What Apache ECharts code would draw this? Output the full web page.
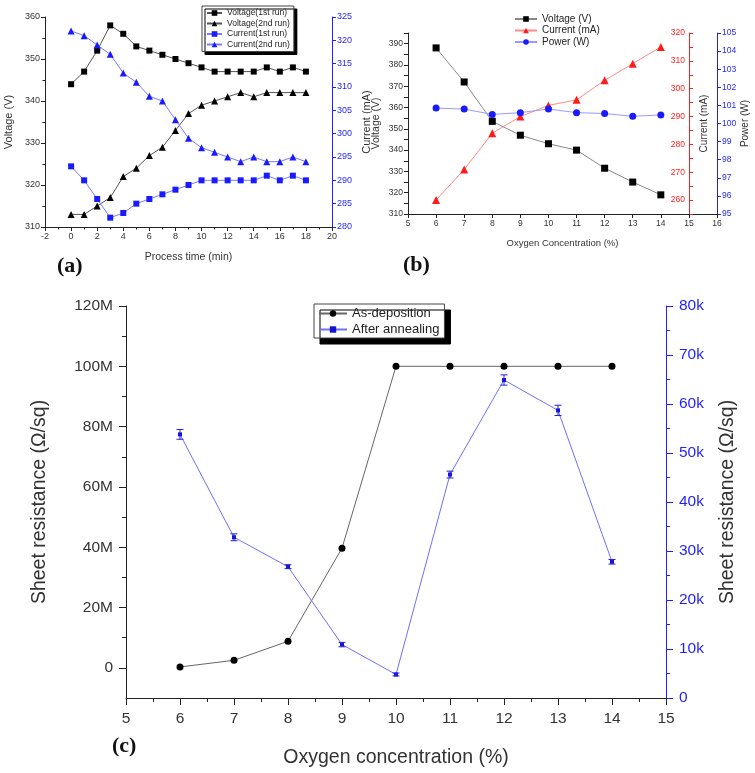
<!DOCTYPE html>
<html><head><meta charset="utf-8">
<script src="https://cdn.jsdelivr.net/npm/echarts@6/dist/echarts.min.js"></script>
<style>html,body{margin:0;padding:0;background:#fff}#c{width:755px;height:773px}</style>
</head><body><div id="c"></div>
<script>
// ---------- (a) process time ----------
const timeMin = [0,1,2,3,4,5,6,7,8,9,10,11,12,13,14,15,16,17,18];
const voltage1st = [344,347,352,358,356,353,352,351,350,349,348,347,347,347,347,348,347,348,347];
const voltage2nd = [313,313,315,317,322,324,327,329,333,337,339,340,341,342,341,342,342,342,342];
const current1st = [293,290,286,282,283,285,286,287,288,289,290,290,290,290,290,291,290,291,290];
const current2nd = [322,321,319,317,313,311,308,307,303,299,297,296,295,294,295,294,294,295,294];
// ---------- (b) oxygen concentration ----------
const oxygenB = [6,7,8,9,10,11,12,13,14];
const voltageB = [388,372,353.5,347,343,340,331.5,325,319];
const currentB = [260,271,284,290,294,296,303,309,315];
const powerB = [100.85,100.8,100.5,100.6,100.8,100.6,100.55,100.4,100.47];
// ---------- (c) sheet resistance ----------
const oxygenC = [6,7,8,9,10,11,12,13,14];
const asDeposition = [0.3e6,2.5e6,8.8e6,39.7e6,100e6,100e6,100e6,100e6,100e6];
const afterAnnealing = [53.8e3,32.8e3,26.8e3,10.9e3,4.8e3,45.6e3,64.9e3,58.7e3,27.8e3];
const annealErr = [1.0e3,0.7e3,0.4e3,0.45e3,0.3e3,0.7e3,1.05e3,1.05e3,0.47e3];

const FONT = 'Liberation Sans, Arial, sans-serif';
const BLUE = '#1f1fff';
const zip = (xs, ys) => xs.map((x, i) => [x, ys[i]]);

function axisBase(fs, color) {
  return {
    type: 'value',
    axisLine: { show: true, onZero: false, lineStyle: { color: color || '#222', width: 1 } },
    axisTick: { show: true, length: 4, lineStyle: { color: color || '#222' } },
    axisLabel: { fontFamily: FONT, fontSize: fs, color: color || '#333', margin: 5 },
    splitLine: { show: false },
    nameLocation: 'middle',
    nameTextStyle: { fontFamily: FONT, color: '#333' }
  };
}
function merge(a, b) {
  const o = Object.assign({}, a);
  for (const k in b) {
    if (b[k] && typeof b[k] === 'object' && !Array.isArray(b[k]) && a[k] && typeof a[k] === 'object') o[k] = merge(a[k], b[k]);
    else o[k] = b[k];
  }
  return o;
}

const xAxes = [
  merge(axisBase(9), { gridIndex: 0, position: 'bottom', min: -2, max: 20, interval: 2, name: 'Process time (min)', nameGap: 25,
    nameTextStyle: { fontSize: 10.5 }, minorTick: { show: true, splitNumber: 2, length: 2.5, lineStyle: { color: '#222' } } }),
  merge(axisBase(8.5), { gridIndex: 1, position: 'bottom', min: 5, max: 16, interval: 1, name: 'Oxygen Concentration (%)', nameGap: 24,
    nameTextStyle: { fontSize: 9.5 } }),
  merge(axisBase(15.5), { gridIndex: 2, position: 'bottom', min: 5, max: 15, interval: 1, name: 'Oxygen concentration (%)', nameGap: 50,
    axisTick: { length: 7 }, axisLabel: { margin: 13 },
    nameTextStyle: { fontSize: 19.5 }, minorTick: { show: true, splitNumber: 2, length: 4, lineStyle: { color: '#222' } } })
];

const mFmt = v => (Math.abs(v % 20e6) < 1 ? (v === 0 ? '0' : Math.round(v / 1e6) + 'M') : '');
const yAxes = [
  merge(axisBase(9), { gridIndex: 0, position: 'left', min: 310, max: 360, interval: 10, name: 'Voltage (V)', nameGap: 31,
    nameTextStyle: { fontSize: 11 }, minorTick: { show: true, splitNumber: 2, length: 2.5, lineStyle: { color: '#222' } } }),
  merge(axisBase(9, BLUE), { gridIndex: 0, position: 'right', min: 280, max: 325, interval: 5, name: 'Current (mA)', nameGap: 29,
    nameTextStyle: { fontSize: 11, color: '#333' } }),
  merge(axisBase(8.5), { gridIndex: 1, position: 'left', min: 310, max: 395, interval: 5, name: 'Voltage (V)', nameGap: 26,
    axisLabel: { formatter: v => (v % 10 === 0 ? String(v) : '') }, nameTextStyle: { fontSize: 10.5 } }),
  merge(axisBase(8.5, '#ff2020'), { gridIndex: 1, position: 'right', offset: -28, min: 255, max: 320, interval: 5,
    name: 'Current (mA)', nameGap: 10, axisLabel: { inside: true, margin: 4, formatter: v => (v % 10 === 0 ? String(v) : '') },
    nameTextStyle: { fontSize: 10, color: '#333' } }),
  merge(axisBase(8.5, BLUE), { gridIndex: 1, position: 'right', min: 95, max: 105, interval: 1, name: 'Power (W)', nameGap: 20,
    nameTextStyle: { fontSize: 10, color: '#333' } }),
  merge(axisBase(15.5), { gridIndex: 2, position: 'left', min: -10e6, max: 120e6, interval: 10e6, name: 'Sheet resistance (\u03a9/sq)', nameGap: 76,
    axisTick: { length: 7, customValues: [0, 20e6, 40e6, 60e6, 80e6, 100e6, 120e6] }, axisLabel: { margin: 13, formatter: mFmt },
    nameTextStyle: { fontSize: 19.5 } }),
  merge(axisBase(15.5, BLUE), { gridIndex: 2, position: 'right', min: 0, max: 80e3, interval: 10e3, name: 'Sheet resistance (\u03a9/sq)', nameGap: 52,
    axisTick: { length: 7 }, axisLabel: { margin: 13, formatter: v => (v === 0 ? '0' : Math.round(v / 1000) + 'k') },
    nameTextStyle: { fontSize: 19.5, color: '#333' }, minorTick: { show: true, splitNumber: 2, length: 4, lineStyle: { color: BLUE } } }),
  // minor ticks for (c) left axis
  merge(axisBase(15.5), { gridIndex: 2, position: 'left', min: -10e6, max: 120e6, interval: 10e6,
    axisLine: { show: false }, axisLabel: { show: false },
    axisTick: { length: 4, customValues: [10e6, 30e6, 50e6, 70e6, 90e6, 110e6] } })
];

function lineSeries(name, xi, yi, data, symbol, size, color, lineColor) {
  return { name, type: 'line', xAxisIndex: xi, yAxisIndex: yi, data, symbol, symbolSize: size,
    itemStyle: { color }, lineStyle: { color: lineColor, width: 1 }, emphasis: { disabled: true }, animation: false };
}

const errData = oxygenC.map((x, i) => [x, afterAnnealing[i] - annealErr[i], afterAnnealing[i] + annealErr[i]]);

const series = [
  lineSeries('Voltage(1st run)', 0, 0, zip(timeMin, voltage1st), 'rect', 6, '#000', '#555'),
  lineSeries('Voltage(2nd run)', 0, 0, zip(timeMin, voltage2nd), 'triangle', 7, '#000', '#555'),
  lineSeries('Current(1st run)', 0, 1, zip(timeMin, current1st), 'rect', 6, '#1a1aff', '#7b7bff'),
  lineSeries('Current(2nd run)', 0, 1, zip(timeMin, current2nd), 'triangle', 7, '#1a1aff', '#7b7bff'),
  lineSeries('Voltage (V)', 1, 2, zip(oxygenB, voltageB), 'rect', 7, '#000', '#888'),
  lineSeries('Current (mA)', 1, 3, zip(oxygenB, currentB), 'triangle', 8, '#ff1a1a', '#ff8a8a'),
  lineSeries('Power (W)', 1, 4, zip(oxygenB, powerB), 'circle', 7, '#1a1aff', '#9a9aff'),
  lineSeries('As-deposition', 2, 5, zip(oxygenC, asDeposition), 'circle', 7, '#000', '#666'),
  lineSeries('After annealing', 2, 6, zip(oxygenC, afterAnnealing), 'rect', 4, '#1212d0', '#6f6fff'),
  {
    name: 'err', type: 'custom', xAxisIndex: 2, yAxisIndex: 6, data: errData, encode: { x: 0, y: [1, 2] },
    z: 5, animation: false, silent: true,
    renderItem: function (params, api) {
      const x = api.value(0), lo = api.value(1), hi = api.value(2);
      const p1 = api.coord([x, lo]), p2 = api.coord([x, hi]);
      const w = 3.5, st = { stroke: '#2020e0', lineWidth: 1 };
      return { type: 'group', children: [
        { type: 'line', shape: { x1: p1[0], y1: p1[1], x2: p2[0], y2: p2[1] }, style: st },
        { type: 'line', shape: { x1: p1[0] - w, y1: p1[1], x2: p1[0] + w, y2: p1[1] }, style: st },
        { type: 'line', shape: { x1: p2[0] - w, y1: p2[1], x2: p2[0] + w, y2: p2[1] }, style: st }
      ] };
    }
  }
];

const legends = [
  { data: ['Voltage(1st run)', 'Voltage(2nd run)', 'Current(1st run)', 'Current(2nd run)'], orient: 'vertical',
    left: 202, top: 6, itemWidth: 15, itemHeight: 7, itemGap: 0.5, padding: [2, 4, 2, 4],
    textStyle: { fontFamily: FONT, fontSize: 8.5, color: '#222', lineHeight: 10 },
    backgroundColor: '#fff', borderColor: '#444', borderWidth: 1,
    shadowColor: '#000', shadowOffsetX: 3, shadowOffsetY: 3, shadowBlur: 0.1, selectedMode: false },
  { data: ['Voltage (V)', 'Current (mA)', 'Power (W)'], orient: 'vertical', left: 514, top: 14,
    itemWidth: 22, itemHeight: 7, itemGap: 1.5, padding: 0,
    textStyle: { fontFamily: FONT, fontSize: 10, color: '#222', lineHeight: 10 }, selectedMode: false },
  { data: ['As-deposition', 'After annealing'], orient: 'vertical', left: 314, top: 304,
    itemWidth: 28, itemHeight: 8, itemGap: 1, padding: [2, 5, 1, 4],
    textStyle: { fontFamily: FONT, fontSize: 13, color: '#222', lineHeight: 15 },
    backgroundColor: '#fff', borderColor: '#444', borderWidth: 1,
    shadowColor: '#000', shadowOffsetX: 6, shadowOffsetY: 6, shadowBlur: 0.1, selectedMode: false }
];

const panelLabel = (t, x, y) => ({ type: 'text', left: x, top: y,
  style: { text: t, font: 'bold 22px "Liberation Serif", "Times New Roman", serif', fill: '#111' } });

const chart = echarts.init(document.getElementById('c'), null, { renderer: 'canvas' });
chart.setOption({
  backgroundColor: '#fff',
  animation: false,
  grid: [
    { left: 45, top: 17, width: 287, height: 210 },
    { left: 408, top: 33, width: 309, height: 181 },
    { left: 126, top: 306, width: 540, height: 397 }
  ],
  xAxis: xAxes,
  yAxis: yAxes,
  legend: legends,
  series: series,
  graphic: [panelLabel('(a)', 57, 255), panelLabel('(b)', 403, 254), panelLabel('(c)', 112, 735)]
});
</script></body></html>
